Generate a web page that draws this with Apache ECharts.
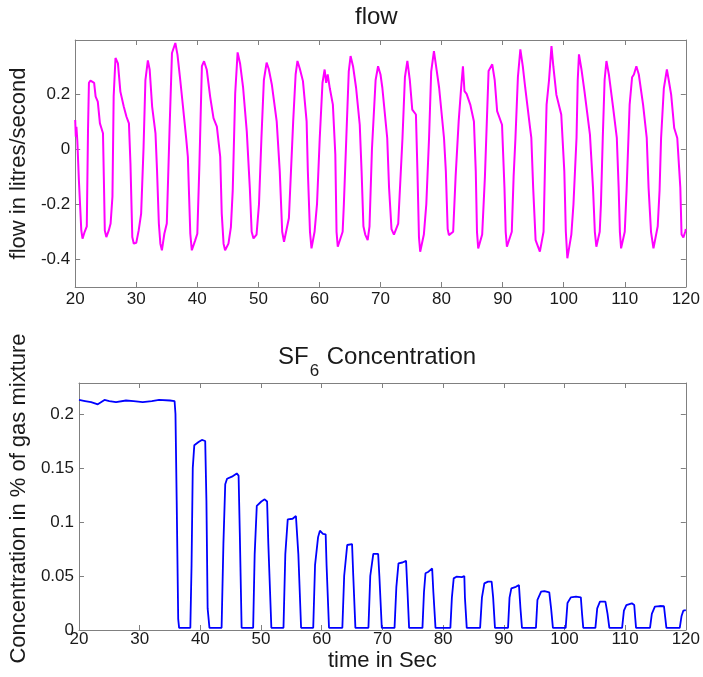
<!DOCTYPE html>
<html>
<head>
<meta charset="utf-8">
<script src="https://cdn.jsdelivr.net/npm/echarts@6/dist/echarts.min.js"></script>
<style>
html,body{margin:0;padding:0;background:#fff;}
#chart{width:703px;height:677px;}
</style>
</head>
<body>
<div id="chart"></div>
<script>
// ---- data ----
const timeTicks = [20, 30, 40, 50, 60, 70, 80, 90, 100, 110, 120];
const flowTicks = [-0.4, -0.2, 0, 0.2];
const sf6Ticks = [0, 0.05, 0.1, 0.15, 0.2];

// flow in litres/second: [time (s), value]
const flowPoints = [
[20.0,0.105],[20.1,0.045],[20.2,0.08],[20.35,0.03],[20.6,-0.11],[21.0,-0.295],[21.2,-0.325],[21.55,-0.30],[21.9,-0.28],[22.1,0.07],[22.25,0.24],[22.5,0.248],[23.1,0.24],[23.35,0.19],[23.7,0.172],[24.05,0.093],[24.3,0.075],[24.55,0.057],[24.7,-0.113],[24.85,-0.295],[25.1,-0.319],[25.5,-0.295],[25.8,-0.27],[26.1,-0.173],[26.3,0.19],[26.6,0.33],[27.0,0.31],[27.4,0.208],[27.95,0.154],[28.4,0.117],[28.8,0.093],[29.05,-0.052],[29.35,-0.319],[29.6,-0.343],[30.0,-0.34],[30.4,-0.295],[30.8,-0.234],[31.2,0.008],[31.5,0.25],[31.9,0.321],[32.2,0.287],[32.6,0.154],[33.15,0.057],[33.4,-0.076],[33.7,-0.27],[33.95,-0.343],[34.2,-0.367],[34.6,-0.307],[35.0,-0.27],[35.45,0.069],[35.85,0.348],[36.4,0.384],[36.75,0.342],[37.2,0.251],[37.65,0.154],[38.2,0.033],[38.45,-0.028],[38.85,-0.307],[39.1,-0.367],[39.65,-0.331],[40.0,-0.307],[40.35,-0.052],[40.75,0.30],[41.1,0.318],[41.55,0.287],[42.1,0.19],[42.65,0.112],[43.2,0.081],[43.75,-0.028],[44.0,-0.234],[44.3,-0.343],[44.55,-0.367],[45.1,-0.343],[45.5,-0.283],[45.8,-0.15],[46.2,0.2],[46.6,0.35],[47.0,0.31],[47.5,0.222],[48.1,0.064],[48.6,-0.142],[48.9,-0.3],[49.2,-0.324],[49.7,-0.31],[50.1,-0.2],[50.5,0.04],[50.9,0.25],[51.35,0.313],[51.7,0.29],[52.2,0.234],[53.0,0.1],[53.5,-0.08],[53.9,-0.3],[54.2,-0.336],[54.5,-0.33],[55.0,-0.25],[55.7,0.1],[56.1,0.27],[56.4,0.319],[56.8,0.29],[57.3,0.246],[57.9,0.1],[58.1,-0.08],[58.45,-0.3],[58.7,-0.36],[59.2,-0.30],[59.6,-0.2],[60.05,0.04],[60.5,0.24],[60.85,0.288],[61.1,0.24],[61.35,0.27],[61.7,0.22],[62.2,0.161],[62.6,-0.02],[62.8,-0.3],[63.0,-0.354],[63.8,-0.30],[64.0,-0.2],[64.4,0.04],[64.8,0.28],[65.1,0.337],[65.5,0.3],[66.0,0.222],[66.6,0.088],[66.9,-0.08],[67.2,-0.28],[67.5,-0.31],[67.9,-0.33],[68.2,-0.28],[68.6,0.0],[69.2,0.25],[69.6,0.30],[70.0,0.27],[70.3,0.222],[71.1,0.04],[71.4,-0.14],[71.8,-0.29],[72.2,-0.31],[72.5,-0.305],[72.9,-0.27],[73.6,0.04],[74.0,0.26],[74.4,0.319],[74.8,0.25],[75.2,0.143],[75.5,0.15],[75.8,0.125],[76.05,-0.08],[76.3,-0.32],[76.5,-0.372],[77.1,-0.31],[77.5,-0.2],[77.95,0.04],[78.3,0.28],[78.75,0.355],[79.1,0.3],[79.6,0.222],[80.4,0.04],[80.7,-0.08],[81.0,-0.29],[81.2,-0.312],[81.9,-0.3],[82.3,-0.1],[82.8,0.1],[83.2,0.22],[83.5,0.30],[83.75,0.21],[84.1,0.2],[84.7,0.161],[85.3,0.10],[85.6,-0.08],[85.8,-0.3],[86.0,-0.36],[86.65,-0.31],[87.1,-0.1],[87.7,0.283],[88.3,0.307],[88.7,0.25],[89.1,0.137],[89.9,0.088],[90.3,-0.14],[90.5,-0.3],[90.7,-0.354],[91.5,-0.30],[91.8,-0.1],[92.1,0.04],[92.5,0.26],[92.9,0.361],[93.3,0.3],[93.7,0.222],[94.5,0.076],[94.7,0.04],[95.0,-0.14],[95.4,-0.33],[96.1,-0.372],[96.7,-0.3],[96.95,-0.05],[97.2,0.161],[97.6,0.25],[98.0,0.373],[98.3,0.3],[98.8,0.197],[99.6,0.125],[100.1,-0.08],[100.35,-0.3],[100.6,-0.396],[101.25,-0.31],[101.6,-0.2],[102.1,0.04],[102.3,0.25],[102.5,0.343],[102.9,0.29],[103.4,0.21],[104.3,0.052],[104.8,-0.14],[105.1,-0.3],[105.35,-0.354],[105.9,-0.30],[106.1,-0.2],[106.4,0.04],[106.7,0.25],[107.0,0.319],[107.4,0.27],[108.1,0.149],[108.7,0.04],[109.0,-0.14],[109.2,-0.3],[109.4,-0.36],[110.0,-0.30],[110.3,-0.15],[110.8,0.161],[111.2,0.26],[111.5,0.27],[111.9,0.30],[112.3,0.27],[113.0,0.161],[113.6,0.04],[113.9,-0.14],[114.3,-0.3],[114.7,-0.36],[115.4,-0.28],[115.7,-0.15],[115.95,0.04],[116.4,0.22],[116.9,0.288],[117.2,0.25],[117.6,0.197],[118.1,0.076],[118.6,0.04],[119.1,-0.14],[119.3,-0.31],[119.6,-0.32],[119.9,-0.30],[120.0,-0.29]
];

// SF6 concentration in % of gas mixture: [time (s), value]
const sf6Points = [
[20.0,0.213],[21.0,0.212],[22.0,0.211],[23.1,0.209],[24.2,0.213],[25.0,0.212],[26.1,0.211],[27.75,0.2125],[29.0,0.212],[30.5,0.211],[32.0,0.212],[33.2,0.213],[35.0,0.2125],[35.75,0.212],[35.9,0.20],[36.1,0.12],[36.35,0.01],[36.5,0.002],[38.35,0.002],[38.55,0.06],[38.75,0.15],[39.0,0.171],[39.7,0.174],[40.25,0.176],[40.8,0.175],[41.0,0.12],[41.2,0.02],[41.5,0.002],[43.5,0.002],[43.8,0.08],[44.1,0.135],[44.4,0.140],[45.2,0.142],[46.0,0.145],[46.3,0.143],[46.5,0.09],[46.8,0.002],[48.7,0.002],[48.95,0.07],[49.3,0.115],[50.05,0.119],[50.6,0.121],[51.0,0.119],[51.2,0.08],[51.7,0.002],[53.7,0.002],[54.0,0.07],[54.4,0.1025],[55.2,0.103],[55.75,0.1055],[56.0,0.104],[56.15,0.07],[56.6,0.002],[58.6,0.002],[58.9,0.06],[59.4,0.086],[59.7,0.092],[60.2,0.089],[60.65,0.0886],[60.8,0.06],[61.2,0.002],[63.4,0.002],[63.7,0.05],[64.2,0.0787],[65.0,0.0796],[65.2,0.05],[65.55,0.002],[67.7,0.002],[68.0,0.05],[68.5,0.0704],[69.3,0.0704],[69.5,0.05],[69.9,0.002],[72.0,0.002],[72.3,0.04],[72.65,0.0617],[73.3,0.0625],[73.9,0.064],[74.1,0.04],[74.4,0.002],[76.6,0.002],[76.85,0.035],[77.1,0.0525],[77.6,0.054],[78.2,0.057],[78.4,0.035],[78.75,0.002],[81.2,0.002],[81.45,0.03],[81.75,0.0478],[82.2,0.0494],[83.1,0.049],[83.5,0.050],[83.6,0.03],[83.9,0.002],[86.1,0.002],[86.4,0.03],[86.8,0.0432],[87.4,0.0448],[88.0,0.0448],[88.25,0.03],[88.55,0.002],[90.7,0.002],[90.95,0.03],[91.25,0.0386],[92.0,0.040],[92.5,0.0417],[92.75,0.02],[93.0,0.002],[95.3,0.002],[95.55,0.028],[96.15,0.0355],[96.7,0.036],[97.5,0.0349],[97.8,0.02],[98.1,0.002],[100.2,0.002],[100.5,0.025],[101.05,0.0302],[101.9,0.0309],[102.7,0.0302],[102.9,0.015],[103.1,0.002],[105.1,0.002],[105.4,0.02],[105.85,0.0262],[106.75,0.0262],[107.1,0.015],[107.4,0.002],[109.5,0.002],[109.8,0.018],[110.2,0.0231],[111.1,0.0247],[111.5,0.0231],[111.65,0.012],[111.8,0.002],[114.1,0.002],[114.4,0.015],[114.9,0.0216],[115.7,0.0222],[116.4,0.022],[116.6,0.012],[116.8,0.002],[119.0,0.002],[119.3,0.013],[119.6,0.018],[120.0,0.0185]
];

// ---- chart ----
const FONT = "'Liberation Sans', Arial, Helvetica, sans-serif";
const TEXT = '#1a1a1a';
const FRAME = '#808080';

function xAx(grid, pos, showLabel, margin) {
  return {
    type: 'value', gridIndex: grid, position: pos, min: 20, max: 120, interval: 10,
    axisLine: { show: true, onZero: false, lineStyle: { color: FRAME, width: 1 } },
    axisTick: { show: true, inside: true, length: 5, lineStyle: { color: FRAME } },
    axisLabel: { show: showLabel, margin: margin, color: TEXT, fontSize: 17, fontFamily: FONT,
      customValues: timeTicks },
    splitLine: { show: false }
  };
}
function yAx(grid, pos, min, max, ticks, showLabel) {
  return {
    type: 'value', gridIndex: grid, position: pos, min: min, max: max,
    axisLine: { show: true, onZero: false, lineStyle: { color: FRAME, width: 1 } },
    axisTick: { show: true, inside: true, length: 5, lineStyle: { color: FRAME }, customValues: ticks },
    axisLabel: { show: showLabel, margin: 5, color: TEXT, fontSize: 17, fontFamily: FONT, customValues: ticks },
    splitLine: { show: false }
  };
}

const chart = echarts.init(document.getElementById('chart'), null, { renderer: 'canvas' });

const xAxes = [xAx(0, 'bottom', true, 4), xAx(0, 'top', false, 4), xAx(1, 'bottom', true, 1), xAx(1, 'top', false, 1)];
xAxes[2].name = 'time in Sec';
xAxes[2].nameLocation = 'middle';
xAxes[2].nameGap = 20;
xAxes[2].nameTextStyle = { color: TEXT, fontSize: 22, fontFamily: FONT };

const yAxes = [
  yAx(0, 'left', -0.5, 0.395, flowTicks, true), yAx(0, 'right', -0.5, 0.395, flowTicks, false),
  yAx(1, 'left', 0, 0.2287, sf6Ticks, true), yAx(1, 'right', 0, 0.2287, sf6Ticks, false)
];
yAxes[0].name = 'flow in litres/second';
yAxes[0].nameLocation = 'middle';
yAxes[0].nameGap = 39;
yAxes[0].nameTextStyle = { color: TEXT, fontSize: 22, fontFamily: FONT };
yAxes[2].name = 'Concentration in % of gas mixture';
yAxes[2].nameLocation = 'middle';
yAxes[2].nameGap = 44;
yAxes[2].nameTextStyle = { color: TEXT, fontSize: 22, fontFamily: FONT, padding: [0, 0, 0, 16] };

chart.setOption({
  animation: false,
  backgroundColor: '#ffffff',
  title: [
    { text: 'flow', left: 355, top: 5, padding: 0,
      textStyle: { color: TEXT, fontSize: 24, fontWeight: 'normal', fontFamily: FONT } },
    { text: '{a|SF}{b|6}{a| Concentration}', left: 278, top: 332, padding: 0,
      textStyle: { color: TEXT, fontSize: 24, fontWeight: 'normal', fontFamily: FONT,
        rich: {
          a: { fontSize: 24, lineHeight: 50, color: TEXT, fontFamily: FONT },
          b: { fontSize: 17, lineHeight: 17, padding: [29, 1, 0, 1], color: TEXT, fontFamily: FONT }
        } } }
  ],
  grid: [
    { left: 75, top: 40, width: 613, height: 247, containLabel: false },
    { left: 75, top: 383, width: 613, height: 247, containLabel: false }
  ],
  xAxis: xAxes,
  yAxis: yAxes,
  series: [
    { type: 'line', xAxisIndex: 0, yAxisIndex: 0, data: flowPoints, showSymbol: false, symbol: 'none',
      lineStyle: { color: '#ff00ff', width: 2 }, itemStyle: { color: '#ff00ff' } },
    { type: 'line', xAxisIndex: 2, yAxisIndex: 2, data: sf6Points, showSymbol: false, symbol: 'none',
      lineStyle: { color: '#0000ff', width: 1.8 }, itemStyle: { color: '#0000ff' } }
  ]
});
</script>
</body>
</html>
